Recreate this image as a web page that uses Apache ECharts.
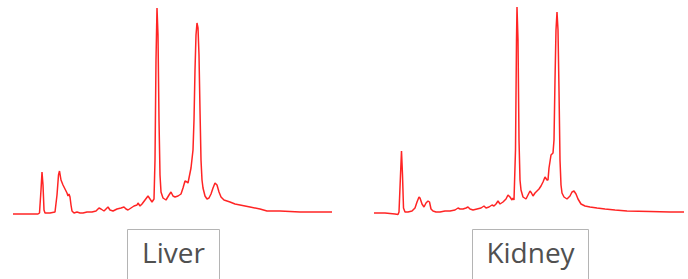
<!DOCTYPE html>
<html>
<head>
<meta charset="utf-8">
<script src="https://cdn.jsdelivr.net/npm/echarts@6/dist/echarts.min.js"></script>
<style>html,body{margin:0;padding:0;background:#fff;}#c{width:688px;height:279px;}</style>
</head>
<body>
<div id="c"></div>
<script>
var panelLabels = ['Liver', 'Kidney'];

var liverTime = [13,25,38,39.5,41,42,43,44,45,50,55,57,58.5,59.5,61,63,65,67,68,69,70,71,72,74,77,80,83,87,92,96,99,101,104,106,108,110,113,117,121,124,126,128,131,134,137,138,140,142,145,148,150,152,154,155,156,157,158,159,160,161,163,166,169,171,173,175,178,181,183,185,187,188,189,191,193,194,195,196,197,198,199,200,201,202,203,205,207,209,211,213,215,217,219,221,224,227,230,235,240,250,260,267,280,300,320,332];
var liverSignal = [1,1,1,2,25,43,30,5,2,2,3,20,40,44,35,30,26,22,19,21,18,10,4,2,3,2,2,3,3,4,7,6,4,6,8,5,4,6,7,8,6,5,7,9,10,12,9,11,15,19,16,13,16,55,155,207,180,95,40,23,17,15,20,23,19,18,19,21,27,34,33,32,37,47,65,95,145,180,192,187,160,105,55,35,27,19,16,17,21,27,32,30,23,18,15,14,13,11,10,8,6,4,4,3,3,3];

var kidneyTime = [374,385,395,398,399,400.5,401.5,402.5,403.5,405,408,412,415,417,419,420,422,424,426,428,429.5,431,433,436,440,445,450,455,458,460,463,466,468,470,473,477,481,484,486,489,492,494,496,498,500,503,506,508,510,512,513,514,515.5,516.5,517,518,519,520,521,523,526,528,530,531.5,533,535,537,539,541,543,545,547,548,549,551,553,554,555,556,557,558,559,560,561,562,564,567,570,572,574,576,578,581,585,590,597,605,615,627,650,670,684];
var kidneySignal = [2,2,1,0.5,3,40,64,40,7,3,3,4,7,13,18,17,11,8,12,14,13,6,4,3,3,4,4,5,7,6,6,7,8,6,5,6,7,9,7,8,10,9,11,14,11,13,16,20,18,15,17,15,65,175,208,175,75,35,25,18,16,20,24,22,19,22,24,26,29,33,38,35,35,47,60,62,75,135,185,203,185,125,55,30,22,18,16,19,23,24,21,16,11,9,8,7,6,5,4,3.5,3,3];

function zip(a, b) { return a.map(function (v, i) { return [v, b[i]]; }); }

var chart = echarts.init(document.getElementById('c'), null, { renderer: 'svg' });
var lineColor = '#ff2424';
var hiddenAxis = { show: false };
chart.setOption({
  animation: false,
  backgroundColor: '#ffffff',
  grid: [
    { left: 13, top: 0, width: 319, height: 215 },
    { left: 374, top: 0, width: 310, height: 215 }
  ],
  xAxis: [
    { type: 'value', gridIndex: 0, min: 13, max: 332, show: false },
    { type: 'value', gridIndex: 1, min: 374, max: 684, show: false }
  ],
  yAxis: [
    { type: 'value', gridIndex: 0, min: 0, max: 215, show: false },
    { type: 'value', gridIndex: 1, min: 0, max: 215, show: false }
  ],
  series: [
    { type: 'line', xAxisIndex: 0, yAxisIndex: 0, data: zip(liverTime, liverSignal), showSymbol: false, clip: false,
      lineStyle: { color: lineColor, width: 1.5 } },
    { type: 'line', xAxisIndex: 1, yAxisIndex: 1, data: zip(kidneyTime, kidneySignal), showSymbol: false, clip: false,
      lineStyle: { color: lineColor, width: 1.5 } }
  ],
  graphic: [
    { type: 'rect', shape: { x: 127.5, y: 229.5, width: 92, height: 60 }, style: { fill: 'none', stroke: '#b4b4b4', lineWidth: 1 } },
    { type: 'text', x: 173.5, y: 252, style: { text: panelLabels[0], fill: '#505050', font: '28px "Open Sans"', align: 'center', verticalAlign: 'middle' } },
    { type: 'rect', shape: { x: 472.5, y: 229.5, width: 116, height: 60 }, style: { fill: 'none', stroke: '#b4b4b4', lineWidth: 1 } },
    { type: 'text', x: 530.5, y: 252, style: { text: panelLabels[1], fill: '#505050', font: '28px "Open Sans"', align: 'center', verticalAlign: 'middle' } }
  ]
});
</script>
</body>
</html>
